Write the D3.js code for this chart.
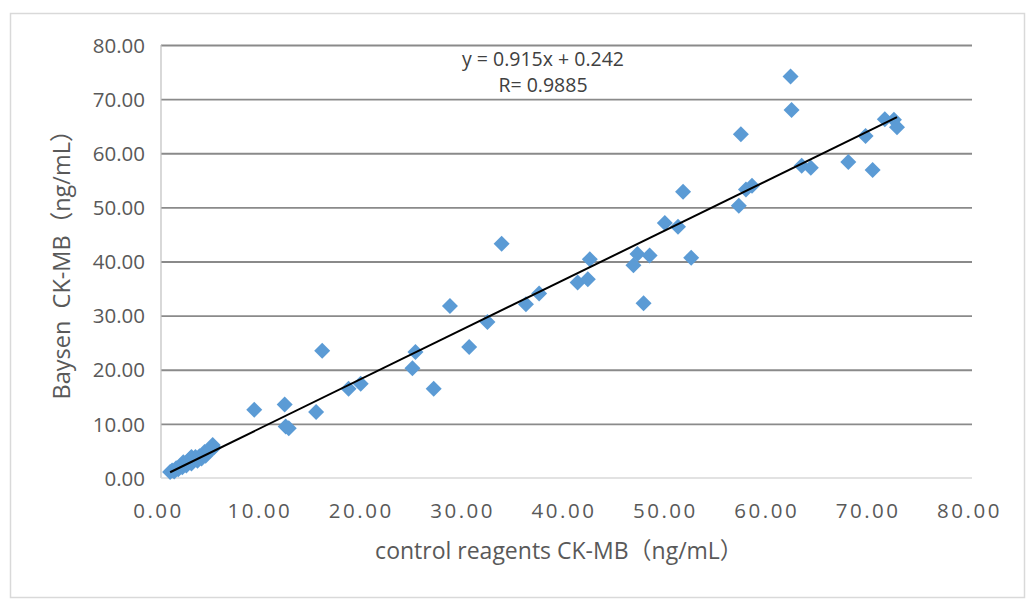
<!DOCTYPE html>
<html><head><meta charset="utf-8">
<script src="https://cdn.jsdelivr.net/npm/d3@7"></script>
<style>
body{margin:0;background:#fff;}
svg{display:block;}
text{font-family:"Open Sans","Noto Sans CJK SC",sans-serif;}
</style></head>
<body><svg id="c" width="1036" height="610"></svg>
<script>
// control reagents CK-MB (x) vs Baysen CK-MB (y)
const xValues = [0.9,1.1,1.3,1.5,1.7,1.9,2.1,2.2,2.3,2.5,2.7,2.9,3.0,3.0,3.2,3.4,3.6,3.8,4.0,4.2,4.3,4.4,4.6,4.8,5.0,5.1,5.2,
  9.2,12.2,12.3,12.6,15.3,15.9,18.5,19.7,24.8,25.1,26.9,28.5,30.4,32.2,33.6,36.0,37.3,41.1,42.1,42.3,
  46.6,47.0,47.6,48.2,49.7,51.0,51.5,52.3,57.0,57.2,57.7,58.3,62.1,62.2,63.2,64.1,67.8,69.5,70.2,71.4,72.3,72.6];
const yValues = [1.1,1.4,1.2,1.8,1.6,2.2,2.0,2.9,2.6,2.3,3.0,3.6,2.7,3.9,3.3,3.9,3.2,4.0,3.6,4.4,4.8,4.1,4.9,5.0,5.4,6.1,5.6,
  12.6,13.6,9.5,9.2,12.2,23.5,16.5,17.4,20.3,23.3,16.5,31.8,24.2,28.8,43.3,32.1,34.1,36.1,36.7,40.4,
  39.3,41.4,32.3,41.1,47.1,46.4,52.9,40.7,50.3,63.5,53.3,54.0,74.2,68.0,57.7,57.3,58.4,63.2,56.9,66.3,66.2,64.8];
const xTicks = [0,10,20,30,40,50,60,70,80];
const yTicks = [0,10,20,30,40,50,60,70,80];
const slope = 0.915, intercept = 0.242;
const eqLabel = "y = 0.915x + 0.242";
const rLabel = "R= 0.9885";
const xTitle = "control reagents CK-MB（ng/mL）";
const yTitle = "Baysen  CK-MB（ng/mL）";

const svg = d3.select("#c");
const L = 161, R = 972, T = 45, B = 478;
const x = d3.scaleLinear().domain([0,80]).range([L,R]);
const y = d3.scaleLinear().domain([0,80]).range([B,T]);
const fmt = d3.format(".2f");

// outer border
svg.append("rect").attr("x",10.5).attr("y",13.5).attr("width",1014).attr("height",584)
  .attr("fill","none").attr("stroke","#d9d9d9").attr("stroke-width",1.5);

// gridlines
const grid = svg.append("g").attr("transform",`translate(${L},0)`)
  .call(d3.axisLeft(y).tickValues(yTicks.filter(d=>d>0)).tickSize(-(R-L)).tickFormat(""));
grid.select(".domain").remove();
grid.selectAll("line").attr("stroke","#8a8a8a").attr("stroke-width",1.8);

// axis lines
svg.append("line").attr("x1",L).attr("x2",L).attr("y1",T).attr("y2",B).attr("stroke","#bfbfbf").attr("stroke-width",1.2);
svg.append("line").attr("x1",L).attr("x2",R).attr("y1",B).attr("y2",B).attr("stroke","#d9d9d9").attr("stroke-width",1.5);

// y tick labels
const ya = svg.append("g").attr("transform",`translate(${L-16},0)`)
  .call(d3.axisLeft(y).tickValues(yTicks).tickSize(0).tickFormat(fmt));
ya.select(".domain").remove();
ya.selectAll("text").attr("font-size",20.5).attr("fill","#595959").attr("x",0).attr("dy","0.35em")
  .style("font-family","'Open Sans',sans-serif");

// x tick labels
const xa = svg.append("g").attr("transform",`translate(0,${B})`)
  .call(d3.axisBottom(x).tickValues(xTicks).tickSize(0).tickFormat(fmt));
xa.select(".domain").remove();
xa.selectAll("text").attr("font-size",20.5).attr("fill","#595959").attr("y",33).attr("dy","0.35em")
  .attr("letter-spacing","2.5px").attr("dx","-3px")
  .style("font-family","'Open Sans',sans-serif");

// points
const sym = d3.symbol().type(d3.symbolSquare).size(128);
svg.append("g").selectAll("path").data(xValues.map((v,i)=>[v,yValues[i]])).join("path")
  .attr("d",sym)
  .attr("transform",d=>`translate(${x(d[0])},${y(d[1])}) rotate(45)`)
  .attr("fill","#5b9bd5");

// trendline
const x0 = d3.min(xValues), x1 = d3.max(xValues);
svg.append("line").attr("x1",x(x0)).attr("y1",y(slope*x0+intercept))
  .attr("x2",x(x1)).attr("y2",y(slope*x1+intercept))
  .attr("stroke","#000").attr("stroke-width",2);

// equation
svg.append("text").attr("x",543).attr("y",66).attr("text-anchor","middle").attr("font-size",19.5).attr("fill","#404040").text(eqLabel);
svg.append("text").attr("x",543).attr("y",92).attr("text-anchor","middle").attr("font-size",19.5).attr("fill","#404040").text(rLabel);

// axis titles
svg.append("text").attr("x",559).attr("y",559).attr("text-anchor","middle").attr("font-size",23).attr("fill","#595959").text(xTitle);
svg.append("text").attr("transform","translate(70,259) rotate(-90)").attr("text-anchor","middle").attr("font-size",23.5).attr("fill","#595959")
  .attr("xml:space","preserve").style("white-space","pre").text(yTitle);
</script></body></html>
